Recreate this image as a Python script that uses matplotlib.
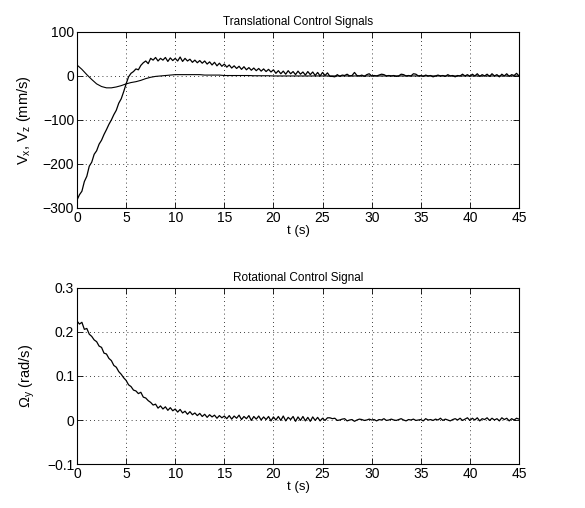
import numpy as np
import matplotlib
matplotlib.use("Agg")
import matplotlib.pyplot as plt

plt.rcParams['font.family'] = ['Liberation Sans', 'DejaVu Sans']
plt.rcParams['font.size'] = 9.5
plt.rcParams['mathtext.default'] = 'regular'

# translational signal (thick, noisy), sampled every 0.25 s
vx = [-282, -270, -262, -240, -228, -205, -196, -178, -170, -155, -146, -133, -122, -110, -100, -88, -78, -62, -52, -36,
      -18, -2, 6, 10, 16, 14, 24, 30, 34, 28, 40, 36, 42, 34, 40, 36, 42, 33, 41, 35,
      40, 34, 43, 33, 40, 34, 38, 31, 36, 30, 35, 29, 34, 27, 32, 25, 31, 23, 29, 22,
      27, 20, 25, 18, 23, 17, 22, 15, 21, 14, 19, 13, 18, 12, 17, 11, 16, 10, 15, 9,
      14, 6, 12, 5, 11, 4, 12, 5, 10, 3, 11, 4, 9, 2, 10, 3, 9, 1, 8, 0,
      8, 1, 7, -1, -1, -2, 3, -1, 2, 1, 4, 0, 1, 8, 1, 0, 2, -1, 3, 5,
      0, 1, 0, 2, 4, 3, 0, 1, 0, 1, -1, 0, 4, 3, 0, 1, 0, 5, 4, 0,
      1, -1, 2, 0, 1, -2, 0, 2, 0, 1, -1, 3, 0, 1, -2, 1, 0, 4, 0, 3,
      -1, 4, 0, 5, -1, 3, 0, 4, -1, 5, 0, 3, -2, 4, 0, 5, -1, 3, 1, 6,
      0]
t_vx = np.arange(len(vx)) * 0.25

# translational signal (thin, smooth), sampled every 0.5 s
vz = [25, 15, 3, -8, -18, -24, -27, -27, -25, -22,
      -18, -15, -13, -10, -6, -3, -1, 0, 1, 2,
      3, 3, 3, 3, 3, 3, 2, 2, 2, 2,
      1, 1, 1, 1, 1, 1, 0.5, 0.5, 0.5, 0.5,
      0, 0, 0, 0, 0, 0, 0, 0, 0, 0,
      0, 0, 0, 0, 0, 0, 0, 0, 0, 0,
      0, 0, 0, 0, 0, 0, 0, 0, 0, 0,
      0, 0, 0, 0, 0, 0, 0, 0, 0, 0,
      0, 0, 0, 0, 0, 0, 0, 0, 0, 0,
      0]
t_vz = np.arange(len(vz)) * 0.5

# rotational signal, sampled every 0.25 s
wy = [0.225, 0.218, 0.222, 0.206, 0.208, 0.195, 0.190, 0.182, 0.178, 0.168, 0.165, 0.152, 0.150, 0.140, 0.135, 0.124, 0.120, 0.110, 0.104, 0.096,
      0.090, 0.080, 0.076, 0.068, 0.066, 0.060, 0.063, 0.052, 0.050, 0.044, 0.040, 0.034, 0.036, 0.027, 0.032, 0.025, 0.030, 0.022, 0.028, 0.021,
      0.025, 0.018, 0.024, 0.016, 0.020, 0.013, 0.019, 0.012, 0.016, 0.010, 0.015, 0.008, 0.013, 0.006, 0.012, 0.007, 0.011, 0.004, 0.010, 0.005,
      0.009, 0.003, 0.010, 0.002, 0.009, 0.004, 0.011, 0.001, 0.008, 0.003, 0.010, -0.001, 0.008, 0.002, 0.009, 0.000, 0.007, 0.001, 0.008, -0.002,
      0.007, 0.000, 0.008, -0.001, 0.009, -0.002, 0.006, 0.001, 0.008, -0.003, 0.007, -0.001, 0.008, -0.002, 0.006, -0.003, 0.007, -0.001, 0.006, -0.002,
      0.004, -0.001, 0.005, 0.005, 0.003, 0.004, -0.001, 0.000, 0.002, 0.003, -0.002, 0.000, 0.001, -0.003, 0.000, 0.002, 0.001, -0.001, 0.000, 0.002,
      0.000, 0.001, -0.002, 0.001, 0.000, 0.003, -0.001, 0.000, 0.002, 0.000, -0.001, 0.001, 0.003, 0.000, -0.002, 0.001, 0.000, 0.002, -0.001, 0.000,
      0.001, -0.002, 0.003, 0.000, 0.001, -0.001, 0.002, 0.000, 0.004, -0.001, 0.002, 0.000, -0.002, 0.001, 0.003, 0.000, 0.004, -0.001, 0.002, 0.005,
      -0.001, 0.004, 0.000, 0.005, -0.002, 0.003, 0.001, 0.005, -0.001, 0.004, 0.000, 0.003, -0.002, 0.005, 0.001, 0.004, -0.002, 0.003, 0.000, 0.004,
      0.002]
t_wy = np.arange(len(wy)) * 0.25

xticks = [0, 5, 10, 15, 20, 25, 30, 35, 40, 45]


def style_axes(ax):
    ax.set_xlim(0, 45)
    ax.set_xticks(xticks)
    ax.grid(True, color='k', linestyle=(0, (1, 4)), linewidth=0.6)
    ax.tick_params(direction='in', top=True, right=True, length=4, width=0.6, pad=2,
                   labelsize=10)
    for s in ax.spines.values():
        s.set_linewidth(0.8)
    ax.set_xlabel("t (s)", labelpad=0, fontsize=9.5)


fig = plt.figure(figsize=(5.85, 5.08), dpi=100)
ax1 = fig.add_axes([0.1316, 0.5906, 0.7556, 0.3465])
ax2 = fig.add_axes([0.1316, 0.0866, 0.7556, 0.3465])

ax1.plot(t_vz, vz, color='k', linewidth=0.8)
ax1.plot(t_vx, vx, color='k', linewidth=0.9)
ax1.set_ylim(-300, 100)
ax1.set_yticks([-300, -200, -100, 0, 100])
ax1.set_ylabel("V$_x$, V$_z$ (mm/s)", labelpad=7, fontsize=10.5)
ax1.set_title("Translational Control Signals", fontsize=8.5, pad=5)
style_axes(ax1)

ax2.plot(t_wy, wy, color='k', linewidth=0.9)
ax2.set_ylim(-0.1, 0.3)
ax2.set_yticks([-0.1, 0, 0.1, 0.2, 0.3])
ax2.set_yticklabels(["\u22120.1", "0", "0.1", "0.2", "0.3"])
ax2.set_ylabel("\u03a9$_y$ (rad/s)", labelpad=7, fontsize=10.5)
ax2.set_title("Rotational Control Signal", fontsize=8.5, pad=5)
style_axes(ax2)

fig.savefig("out.png", dpi=100)
